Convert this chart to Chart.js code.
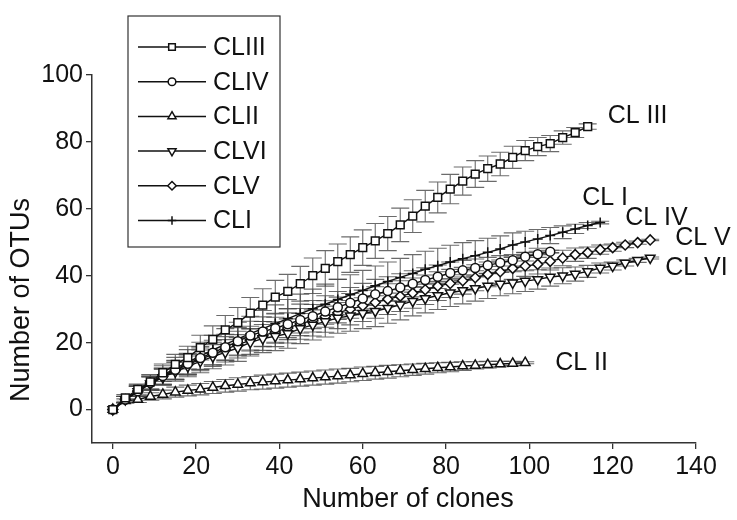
<!DOCTYPE html>
<html>
<head>
<meta charset="utf-8">
<script src="https://cdn.jsdelivr.net/npm/chart.js@4/dist/chart.umd.min.js"></script>
<style>
  html, body { margin: 0; background: #fff; }
</style>
</head>
<body>
<canvas id="chart" width="737" height="520"></canvas>
<script>
// sampling points (number of clones)
const clones = [0,3,6,9,12,15,18,21,24,27,30,33,36,39,42,45,48,51,54,57,60,63,66,69,72,75,78,81,84,87,90,93,96,99,102,105,108,111,114,117,120,123,126,129];

// mean number of OTUs per library
const clIII = [0,3.5,6,8.3,11,13.5,15.5,18.5,21,23.8,26,28.8,31.2,33.6,35.3,37.6,40,42.2,44.2,46.3,48.4,50.4,52.6,55.2,57.8,60.8,63.4,65.9,68.3,70.4,72,73.4,75.4,77.4,78.6,79.5,81.3,82.8,84.6];
const clIV = [0,3,5.5,8,10,11.9,13.7,15.4,17,18.6,20.4,22.1,23.3,24.3,25.5,26.8,27.9,29.3,30.6,31.9,33.2,34.5,35.4,36.5,37.6,38.7,39.7,40.8,41.6,42.3,43.1,43.9,44.6,45.7,46.4,47.2];
const clII = [0,2.6,3,3.9,4.5,5.2,5.7,6.1,6.6,7.1,7.5,7.9,8.2,8.5,8.8,9.1,9.4,9.7,10,10.3,10.7,11,11.3,11.6,11.9,12.2,12.5,12.7,13,13.2,13.4,13.6,13.8,14];
const clVI = [0,3,5.4,7.7,9.6,11.3,12.9,14.4,15.8,17.1,18.4,20.1,21.2,21.9,22.7,24.2,25.3,26.3,27.4,28,28.8,29.4,30.3,31.3,32.4,33.2,34.1,34.9,35.6,36.2,36.9,37.5,37.9,38.4,38.9,39.6,40,40.5,41.3,42.3,42.9,43.8,44.6,45.3];
const clV = [0,3,5.5,7.9,9.9,11.7,13.4,15,16.5,18,19.4,20.7,22,23.2,24.4,25.6,26.7,27.8,28.9,30,31,32,33,33.9,34.8,35.8,36.9,37.7,38.5,39.4,40.4,41.2,42.2,42.9,43.4,44.3,45.3,46.3,46.9,47.8,48.4,49.2,49.9,50.7];
const clI = [0,3,5.6,8.1,10.3,12.3,14.2,16,17.8,19.5,21.1,22.7,24.2,25.7,27.2,28.7,30.1,31.5,32.9,34.3,35.6,37,38.3,39.5,40.7,41.9,43,44.1,45.1,46,47,48,49.2,50.1,51,52,53,54,55,55.9];

// error bar half-widths (same length as the series above)
const errIII = [0,1,1.6,2.1,2.6,3,3.4,3.7,4,4.3,4.5,4.7,4.9,5,5.1,5.2,5.3,5.3,5.3,5.3,5.3,5.2,5.1,5,4.9,4.7,4.6,4.4,4.2,4,3.8,3.5,3.3,3,2.7,2.4,2,1.5,0.8];
const errIV = [0,0.9,1.5,2,2.4,2.8,3.1,3.4,3.7,3.9,4.1,4.3,4.4,4.5,4.6,4.7,4.7,4.7,4.7,4.6,4.5,4.4,4.3,4.1,3.9,3.7,3.5,3.3,3,2.7,2.4,2.1,1.7,1.3,0.9,0.4];
const errII = [0,0.6,0.9,1.1,1.3,1.5,1.6,1.7,1.8,1.9,2,2,2.1,2.1,2.1,2.1,2.1,2.1,2.1,2,2,1.9,1.9,1.8,1.7,1.6,1.5,1.4,1.3,1.1,1,0.8,0.6,0.3];
const errVI = [0,0.9,1.5,2,2.4,2.8,3.1,3.4,3.6,3.8,4,4.1,4.2,4.3,4.4,4.5,4.5,4.6,4.6,4.6,4.6,4.6,4.5,4.5,4.4,4.3,4.2,4.1,4,3.8,3.7,3.5,3.3,3.1,2.9,2.7,2.4,2.1,1.8,1.5,1.2,0.9,0.6,0.3];
const errV = [0,0.9,1.5,2,2.4,2.8,3.1,3.4,3.6,3.8,4,4.2,4.3,4.4,4.5,4.6,4.7,4.7,4.7,4.7,4.7,4.7,4.6,4.6,4.5,4.4,4.3,4.2,4,3.9,3.7,3.5,3.3,3.1,2.9,2.6,2.3,2,1.7,1.4,1.1,0.8,0.5,0.2];
const errI = [0,1,1.7,2.3,2.8,3.3,3.7,4.1,4.4,4.7,5,5.2,5.4,5.6,5.7,5.8,5.9,6,6,6,6,5.9,5.8,5.7,5.6,5.4,5.2,5,4.8,4.5,4.2,3.9,3.6,3.2,2.8,2.4,1.9,1.4,0.9,0.4];

const legendNames = ['CLIII','CLIV','CLII','CLVI','CLV','CLI'];
const endLabels = ['CL III','CL IV','CL II','CL VI','CL V','CL I'];
const xTicks = [0,10,20,30,40,50,60,70,80,90,100,110,120,130,140];
const yTicks = [-10,0,10,20,30,40,50,60,70,80,90,100];
const xTitle = 'Number of clones';
const yTitle = 'Number of OTUs';

const FONT = '"Liberation Sans", Arial, sans-serif';

function pts(ys) {
  return ys.map((y, i) => ({ x: clones[i], y: y }));
}

function series(name, ys, errs, style, radius, rotation) {
  return {
    label: name,
    data: pts(ys),
    errors: errs,
    borderColor: '#111',
    borderWidth: 1.4,
    pointStyle: style,
    pointRadius: radius,
    pointRotation: rotation || 0,
    pointBackgroundColor: '#fff',
    pointBorderColor: '#111',
    pointBorderWidth: 1.5,
    tension: 0,
    fill: false
  };
}

const datasets = [
  series(legendNames[0], clIII, errIII, 'rect', 5.5),
  series(legendNames[1], clIV, errIV, 'circle', 4.5),
  series(legendNames[2], clII, errII, 'triangle', 5.5),
  series(legendNames[3], clVI, errVI, 'triangle', 5.5, 180),
  series(legendNames[4], clV, errV, 'rectRot', 5),
  series(legendNames[5], clI, errI, 'cross', 5)
];

// where each end label sits relative to the last point of its curve (px)
const labelOffsets = [[20, -10], [75, -34], [30, 0], [15, 10], [25, -2], [-18, -24]];

const errorBars = {
  id: 'errorBars',
  beforeDatasetsDraw(chart) {
    const ctx = chart.ctx;
    const ys = chart.scales.y;
    ctx.save();
    ctx.strokeStyle = 'rgba(70,70,70,0.8)';
    ctx.lineWidth = 1.1;
    chart.data.datasets.forEach((ds, i) => {
      const meta = chart.getDatasetMeta(i);
      meta.data.forEach((pt, j) => {
        const e = ds.errors[j];
        if (!e) return;
        const top = ys.getPixelForValue(ds.data[j].y + e);
        const bot = ys.getPixelForValue(ds.data[j].y - e);
        ctx.beginPath();
        ctx.moveTo(pt.x, top); ctx.lineTo(pt.x, bot);
        ctx.moveTo(pt.x - 9, top); ctx.lineTo(pt.x + 9, top);
        ctx.moveTo(pt.x - 9, bot); ctx.lineTo(pt.x + 9, bot);
        ctx.stroke();
      });
    });
    ctx.restore();
  }
};

const endLabelPlugin = {
  id: 'endLabels',
  afterDatasetsDraw(chart) {
    const ctx = chart.ctx;
    ctx.save();
    ctx.font = '25px ' + FONT;
    ctx.fillStyle = '#111';
    ctx.textBaseline = 'middle';
    ctx.textAlign = 'left';
    chart.data.datasets.forEach((ds, i) => {
      const meta = chart.getDatasetMeta(i);
      const last = meta.data[meta.data.length - 1];
      ctx.fillText(endLabels[i], last.x + labelOffsets[i][0], last.y + labelOffsets[i][1]);
    });
    ctx.restore();
  }
};

const axisTitles = {
  id: 'axisTitles',
  afterDraw(chart) {
    const ctx = chart.ctx;
    const a = chart.chartArea;
    ctx.save();
    ctx.font = '27px ' + FONT;
    ctx.fillStyle = '#111';
    ctx.textAlign = 'center';
    ctx.textBaseline = 'middle';
    ctx.fillText(xTitle, (a.left + a.right) / 2 + 14, a.bottom + 57);
    ctx.translate(a.left - 70, a.top + 225);
    ctx.rotate(-Math.PI / 2);
    ctx.fillText(yTitle, 0, 0);
    ctx.restore();
  }
};

const boxLegend = {
  id: 'boxLegend',
  afterDraw(chart) {
    const ctx = chart.ctx;
    const area = chart.chartArea;
    const left = area.left + 36, top = area.top - 59;
    const w = 152, h = 231, rowH = 34.7;
    ctx.save();
    ctx.strokeStyle = '#333';
    ctx.lineWidth = 1.2;
    ctx.strokeRect(left, top, w, h);
    ctx.font = '25px ' + FONT;
    ctx.textBaseline = 'middle';
    ctx.textAlign = 'left';
    chart.data.datasets.forEach((ds, i) => {
      const y = top + 31 + i * rowH;
      ctx.strokeStyle = '#111';
      ctx.lineWidth = 1.5;
      ctx.beginPath();
      ctx.moveTo(left + 10, y); ctx.lineTo(left + 78, y);
      ctx.stroke();
      ctx.fillStyle = '#fff';
      ctx.strokeStyle = '#111';
      Chart.helpers.drawPoint(ctx, {
        pointStyle: ds.pointStyle,
        radius: ds.pointRadius * 0.85,
        rotation: ds.pointRotation,
        borderWidth: 1.3
      }, left + 44, y);
      ctx.fillStyle = '#111';
      ctx.fillText(ds.label, left + 85, y + 1);
    });
    ctx.restore();
  }
};

new Chart(document.getElementById('chart'), {
  type: 'line',
  data: { datasets: datasets },
  options: {
    responsive: false,
    devicePixelRatio: 1,
    animation: false,
    layout: { padding: { left: 0, right: 41, top: 75, bottom: 0 } },
    plugins: {
      legend: { display: false },
      tooltip: { enabled: false }
    },
    scales: {
      x: {
        type: 'linear',
        min: -5,
        max: 140,
        afterBuildTicks: s => { s.ticks = xTicks.map(v => ({ value: v })); },
        afterFit: s => { s.height = 77; },
        ticks: {
          color: '#111',
          font: { family: FONT, size: 25 },
          padding: 3,
          maxRotation: 0,
          autoSkip: false,
          callback: v => (v % 20 === 0 ? v : null)
        },
        grid: { drawOnChartArea: false, drawTicks: true, tickLength: 6, color: '#333', lineWidth: 1.3 },
        border: { color: '#333', width: 1.5 }
      },
      y: {
        min: -10,
        max: 100,
        afterBuildTicks: s => { s.ticks = yTicks.map(v => ({ value: v })); },
        afterFit: s => { s.width = 92; },
        ticks: {
          color: '#111',
          font: { family: FONT, size: 25 },
          padding: 3,
          autoSkip: false,
          callback: v => (v >= 0 && v % 20 === 0 ? v : null)
        },
        grid: { drawOnChartArea: false, drawTicks: true, tickLength: 6, color: '#333', lineWidth: 1.3 },
        border: { color: '#333', width: 1.5 }
      }
    }
  },
  plugins: [errorBars, endLabelPlugin, axisTitles, boxLegend]
});
</script>
</body>
</html>
